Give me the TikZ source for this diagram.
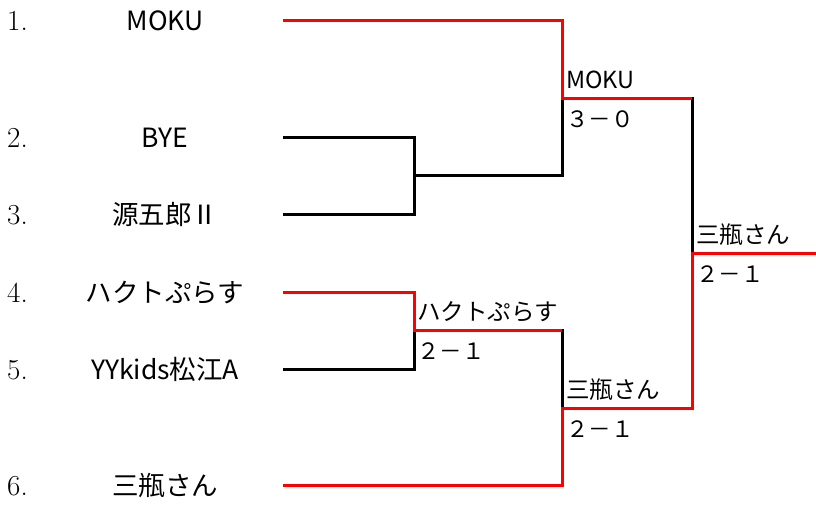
\documentclass[tikz,border=0pt]{standalone}
\usepackage{fontspec}
\newfontfamily\jp{Noto Sans CJK JP}
\begin{document}
\begin{tikzpicture}[x=1pt,y=-1pt,
  num/.style={anchor=base west,inner sep=0pt,font=\fontsize{29}{32}\selectfont},
  team/.style={anchor=base,inner sep=0pt,font=\jp\fontsize{26.5}{30}\selectfont},
  winner/.style={anchor=base west,inner sep=0pt,font=\jp\fontsize{23.5}{26}\selectfont},
  score/.style={anchor=base west,inner sep=0pt,font=\jp\fontsize{22.5}{26}\selectfont},
  wline/.style={draw=red,line width=3pt,line join=miter},
  lline/.style={draw=black,line width=3pt,line join=miter}]
\useasboundingbox (0,0) rectangle (816,504);
% team line starts
\coordinate (t1) at (283,20);
\coordinate (t2) at (283,137);
\coordinate (t3) at (283,214);
\coordinate (t4) at (283,292);
\coordinate (t5) at (283,369);
\coordinate (t6) at (283,485);
% joins
\coordinate (j23) at (414,175);
\coordinate (j45) at (414,330);
\coordinate (s1) at (562,98);
\coordinate (s2) at (562,408);
\coordinate (f) at (692,253);
\coordinate (fend) at (816,253);
% numbers
\node[num] (n1) at (7,30) {1.};
\node[num] (n2) at (7,147) {2.};
\node[num] (n3) at (7,224) {3.};
\node[num] (n4) at (7,302) {4.};
\node[num] (n5) at (7,379) {5.};
\node[num] (n6) at (7,495) {6.};
% teams
\node[team] (m1) at (165,30) {MOKU};
\node[team] (m2) at (165,147) {BYE};
\node[team] (m3) at (165,224) {源五郎Ⅱ};
\node[team] (m4) at (165,302) {ハクトぷらす};
\node[team] (m5) at (165,379) {YYkids松江A};
\node[team] (m6) at (165,495) {三瓶さん};
% losing lines
\draw[lline] (t2) -| (j23) |- (t3);
\draw[lline] (j23) -| (s1);
\draw[lline] (t5) -| (j45);
\draw[lline] (j45) -| (s2);
\draw[lline] (s1) -| (f);
% winning lines
\draw[wline] (t1) -| (s1) -- (s1 -| f);
\draw[wline] (t4) -| (j45) -- (j45 -| s2);
\draw[wline] (t6) -| (s2) -| (f) -- (fend);
% results
\node[winner] (w1) at (566,88) {MOKU};
\node[score] (r1) at (566,127) {３－０};
\node[winner] (w2) at (417,320) {ハクトぷらす};
\node[score] (r2) at (417,359) {２－１};
\node[winner] (w3) at (566,398) {三瓶さん};
\node[score] (r3) at (566,437) {２－１};
\node[winner] (w4) at (696,243) {三瓶さん};
\node[score] (r4) at (696,282) {２－１};
\end{tikzpicture}
\end{document}
